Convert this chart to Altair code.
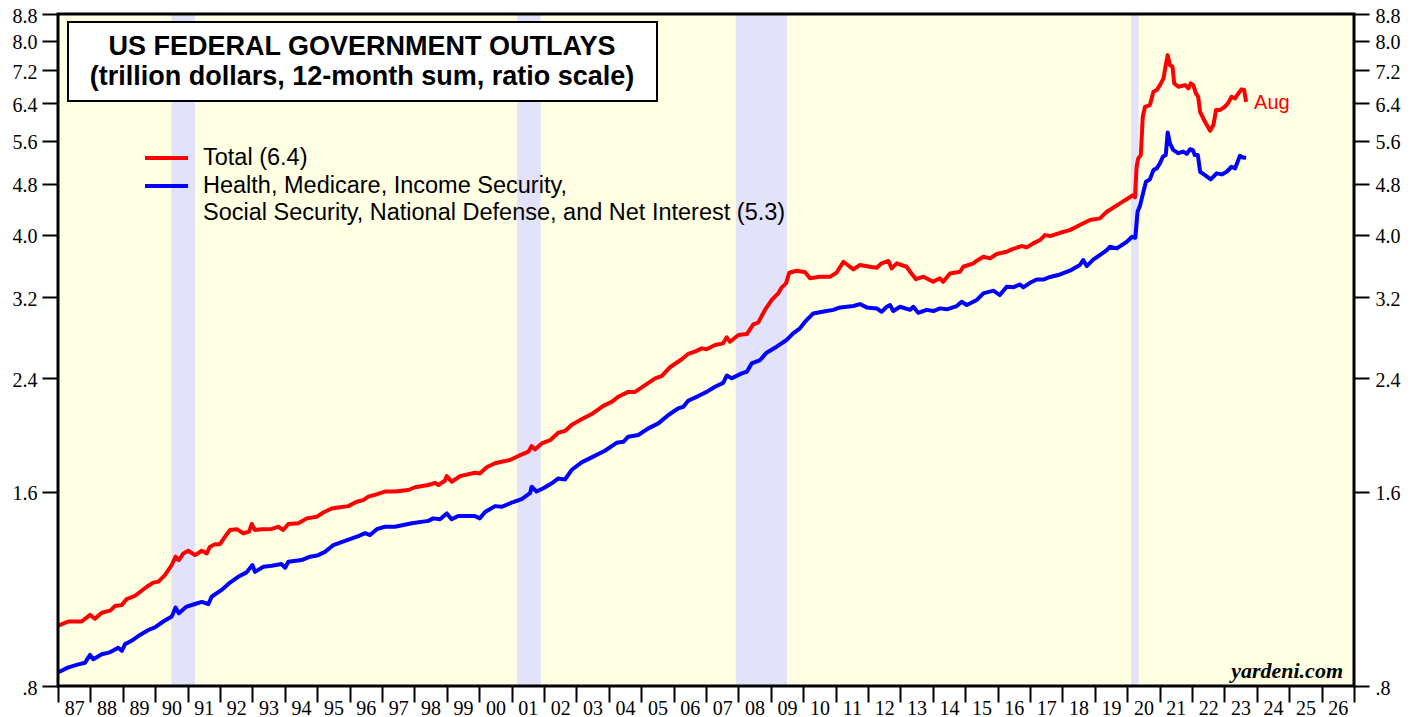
import altair as alt
import pandas as pd

# ---------------- data ----------------
total_year = [1987.01, 1987.32, 1987.73, 1987.99, 1988.14, 1988.35, 1988.61, 1988.76, 1988.97, 1989.12,
              1989.38, 1989.54, 1989.74, 1989.94, 1990.10, 1990.30, 1990.51, 1990.63, 1990.73, 1990.87,
              1991.02, 1991.23, 1991.44, 1991.59, 1991.69, 1991.85, 1992.00, 1992.15, 1992.31, 1992.52,
              1992.72, 1992.90, 1992.98, 1993.08, 1993.29, 1993.60, 1993.80, 1993.95, 1994.11, 1994.42,
              1994.68, 1994.98, 1995.19, 1995.45, 1995.65, 1995.96, 1996.22, 1996.42, 1996.58, 1996.78,
              1997.09, 1997.40, 1997.81, 1998.02, 1998.43, 1998.64, 1998.74, 1998.94, 1999.00, 1999.15,
              1999.41, 1999.87, 2000.02, 2000.23, 2000.49, 2000.69, 2000.95, 2001.21, 2001.52, 2001.62,
              2001.72, 2001.93, 2002.19, 2002.44, 2002.65, 2002.85, 2003.16, 2003.47, 2003.83, 2004.09,
              2004.29, 2004.60, 2004.81, 2005.12, 2005.43, 2005.63, 2005.89, 2006.25, 2006.45, 2006.66,
              2006.87, 2007.02, 2007.28, 2007.53, 2007.64, 2007.74, 2008.00, 2008.26, 2008.46, 2008.61,
              2008.82, 2009.03, 2009.23, 2009.34, 2009.47, 2009.57, 2009.80, 2010.06, 2010.21, 2010.52,
              2010.83, 2011.03, 2011.24, 2011.55, 2011.75, 2012.06, 2012.27, 2012.42, 2012.63, 2012.73,
              2012.89, 2013.19, 2013.30, 2013.48, 2013.71, 2014.01, 2014.22, 2014.32, 2014.53, 2014.84,
              2014.94, 2015.25, 2015.36, 2015.56, 2015.77, 2015.97, 2016.28, 2016.44, 2016.74, 2016.90,
              2017.10, 2017.31, 2017.46, 2017.62, 2017.93, 2018.23, 2018.54, 2018.85, 2019.16, 2019.37,
              2019.78, 2020.03, 2020.19, 2020.24, 2020.29, 2020.34, 2020.42, 2020.48, 2020.55, 2020.70,
              2020.81, 2020.91, 2021.01, 2021.12, 2021.19, 2021.25, 2021.32, 2021.40, 2021.45, 2021.58,
              2021.79, 2021.89, 2021.96, 2022.04, 2022.12, 2022.19, 2022.25, 2022.40, 2022.56, 2022.66,
              2022.74, 2022.86, 2023.01, 2023.12, 2023.22, 2023.33, 2023.43, 2023.53, 2023.61, 2023.67]
total_val = [0.992, 1.007, 1.007, 1.031, 1.017, 1.039, 1.047, 1.064, 1.068, 1.091,
             1.104, 1.120, 1.140, 1.157, 1.161, 1.188, 1.232, 1.269, 1.254, 1.284,
             1.296, 1.276, 1.296, 1.284, 1.315, 1.327, 1.327, 1.362, 1.396, 1.400,
             1.380, 1.388, 1.426, 1.396, 1.400, 1.401, 1.412, 1.396, 1.426, 1.430,
             1.455, 1.463, 1.486, 1.507, 1.513, 1.520, 1.544, 1.553, 1.572, 1.582,
             1.601, 1.601, 1.610, 1.626, 1.639, 1.652, 1.639, 1.664, 1.692, 1.658,
             1.692, 1.712, 1.708, 1.746, 1.771, 1.781, 1.792, 1.818, 1.846, 1.883,
             1.861, 1.901, 1.923, 1.975, 1.988, 2.030, 2.072, 2.111, 2.174, 2.205,
             2.245, 2.285, 2.285, 2.341, 2.398, 2.418, 2.495, 2.567, 2.616, 2.638,
             2.669, 2.660, 2.701, 2.717, 2.776, 2.733, 2.799, 2.809, 2.908, 2.925,
             3.062, 3.172, 3.248, 3.318, 3.365, 3.496, 3.521, 3.501, 3.428, 3.447,
             3.447, 3.496, 3.635, 3.538, 3.593, 3.571, 3.558, 3.615, 3.645, 3.551,
             3.615, 3.571, 3.508, 3.416, 3.447, 3.384, 3.428, 3.384, 3.487, 3.508,
             3.571, 3.615, 3.649, 3.701, 3.680, 3.737, 3.768, 3.800, 3.845, 3.827,
             3.882, 3.928, 3.998, 3.984, 4.031, 4.070, 4.144, 4.219, 4.244, 4.345,
             4.477, 4.559, 4.612, 4.575, 5.102, 5.256, 5.319, 6.098, 6.319, 6.358,
             6.668, 6.709, 6.828, 6.994, 7.333, 7.599, 7.333, 7.289, 6.869, 6.788,
             6.828, 6.749, 6.869, 6.828, 6.628, 6.550, 6.208, 5.990, 5.801, 5.920,
             6.245, 6.245, 6.319, 6.410, 6.550, 6.511, 6.628, 6.725, 6.709, 6.433]

core_year = [1987.01, 1987.32, 1987.63, 1987.83, 1987.99, 1988.09, 1988.35, 1988.60, 1988.86, 1988.97,
             1989.07, 1989.27, 1989.53, 1989.79, 1989.99, 1990.25, 1990.51, 1990.63, 1990.73, 1990.97,
             1991.23, 1991.44, 1991.64, 1991.74, 1992.05, 1992.31, 1992.56, 1992.82, 1993.00, 1993.08,
             1993.34, 1993.60, 1993.90, 1994.01, 1994.11, 1994.52, 1994.78, 1995.03, 1995.24, 1995.50,
             1995.86, 1996.27, 1996.48, 1996.63, 1996.84, 1997.09, 1997.40, 1997.92, 1998.43, 1998.58,
             1998.79, 1999.00, 1999.15, 1999.35, 1999.87, 2000.02, 2000.18, 2000.49, 2000.69, 2001.00,
             2001.31, 2001.57, 2001.62, 2001.77, 2001.98, 2002.24, 2002.44, 2002.65, 2002.85, 2003.16,
             2003.47, 2003.88, 2004.24, 2004.45, 2004.60, 2004.91, 2005.22, 2005.53, 2005.84, 2006.14,
             2006.30, 2006.45, 2006.76, 2007.02, 2007.28, 2007.53, 2007.64, 2007.79, 2008.10, 2008.26,
             2008.41, 2008.67, 2008.87, 2009.18, 2009.49, 2009.69, 2009.90, 2010.06, 2010.31, 2010.72,
             2010.93, 2011.14, 2011.55, 2011.75, 2011.96, 2012.27, 2012.42, 2012.58, 2012.68, 2012.78,
             2012.99, 2013.30, 2013.40, 2013.55, 2013.81, 2014.02, 2014.22, 2014.43, 2014.74, 2014.89,
             2015.05, 2015.36, 2015.56, 2015.87, 2016.07, 2016.28, 2016.48, 2016.69, 2016.79, 2017.00,
             2017.21, 2017.41, 2017.62, 2017.93, 2018.23, 2018.54, 2018.64, 2018.75, 2018.96, 2019.16,
             2019.37, 2019.47, 2019.68, 2019.99, 2020.15, 2020.25, 2020.32, 2020.40, 2020.50, 2020.58,
             2020.70, 2020.81, 2020.91, 2021.01, 2021.10, 2021.19, 2021.25, 2021.32, 2021.42, 2021.58,
             2021.73, 2021.84, 2021.94, 2022.02, 2022.09, 2022.18, 2022.25, 2022.40, 2022.58, 2022.76,
             2022.92, 2023.07, 2023.22, 2023.33, 2023.48, 2023.57, 2023.67]
core_val = [0.840, 0.855, 0.864, 0.869, 0.894, 0.880, 0.896, 0.902, 0.917, 0.907,
            0.929, 0.940, 0.960, 0.977, 0.986, 1.007, 1.025, 1.058, 1.037, 1.062,
            1.072, 1.080, 1.071, 1.100, 1.127, 1.157, 1.181, 1.200, 1.232, 1.202,
            1.224, 1.229, 1.236, 1.220, 1.246, 1.254, 1.269, 1.276, 1.291, 1.323,
            1.343, 1.366, 1.380, 1.371, 1.400, 1.412, 1.412, 1.430, 1.442, 1.455,
            1.450, 1.481, 1.450, 1.467, 1.467, 1.455, 1.489, 1.520, 1.516, 1.539,
            1.559, 1.592, 1.629, 1.601, 1.620, 1.649, 1.678, 1.672, 1.729, 1.777,
            1.809, 1.852, 1.905, 1.912, 1.947, 1.959, 2.006, 2.042, 2.104, 2.155,
            2.167, 2.214, 2.251, 2.285, 2.327, 2.360, 2.422, 2.398, 2.441, 2.455,
            2.529, 2.560, 2.628, 2.685, 2.750, 2.816, 2.867, 2.936, 3.023, 3.049,
            3.062, 3.089, 3.104, 3.126, 3.089, 3.078, 3.041, 3.096, 3.115, 3.049,
            3.096, 3.062, 3.096, 3.030, 3.062, 3.049, 3.078, 3.068, 3.104, 3.152,
            3.115, 3.172, 3.248, 3.279, 3.228, 3.325, 3.318, 3.353, 3.318, 3.372,
            3.412, 3.412, 3.443, 3.474, 3.521, 3.593, 3.658, 3.580, 3.667, 3.724,
            3.790, 3.835, 3.813, 3.904, 3.974, 3.960, 4.345, 4.449, 4.667, 4.836,
            4.877, 5.043, 5.073, 5.165, 5.287, 5.319, 5.768, 5.546, 5.418, 5.355,
            5.386, 5.341, 5.431, 5.418, 5.319, 5.319, 5.012, 4.953, 4.877, 4.983,
            4.965, 5.012, 5.102, 5.073, 5.306, 5.275, 5.268]

recession_start = [1990.50, 2001.17, 2007.92, 2020.12]
recession_end = [1991.23, 2001.90, 2009.50, 2020.35]

series_names = ["Total", "Core"]
series_colors = ["#FF0000", "#0000FF"]
legend_lines = ["Total (6.4)",
                "Health, Medicare, Income Security,",
                "Social Security, National Defense, and Net Interest (5.3)"]
title_lines = ["US FEDERAL GOVERNMENT OUTLAYS",
               "(trillion dollars, 12-month sum, ratio scale)"]
last_label = "Aug"
source_text = "yardeni.com"

year_ticks = [1987, 1988, 1989, 1990, 1991, 1992, 1993, 1994, 1995, 1996, 1997, 1998, 1999, 2000,
              2001, 2002, 2003, 2004, 2005, 2006, 2007, 2008, 2009, 2010, 2011, 2012, 2013, 2014,
              2015, 2016, 2017, 2018, 2019, 2020, 2021, 2022, 2023, 2024, 2025, 2026, 2027]
year_labels = ["87", "88", "89", "90", "91", "92", "93", "94", "95", "96", "97", "98", "99", "00",
               "01", "02", "03", "04", "05", "06", "07", "08", "09", "10", "11", "12", "13", "14",
               "15", "16", "17", "18", "19", "20", "21", "22", "23", "24", "25", "26", ""]
y_ticks = [0.8, 1.6, 2.4, 3.2, 4.0, 4.8, 5.6, 6.4, 7.2, 8.0, 8.8]
y_labels = [".8", "1.6", "2.4", "3.2", "4.0", "4.8", "5.6", "6.4", "7.2", "8.0", "8.8"]

# ---------------- tables ----------------
rows = [{"year": y, "value": v, "series": series_names[0]} for y, v in zip(total_year, total_val)]
rows += [{"year": y, "value": v, "series": series_names[1]} for y, v in zip(core_year, core_val)]
lines_df = pd.DataFrame(rows)
rec_df = pd.DataFrame({"start": recession_start, "end": recession_end})
last_df = pd.DataFrame({"year": [total_year[-1]], "value": [total_val[-1]], "label": [last_label]})
one = alt.Data(values=[{"k": 0}])

W, H = 1296, 672
SERIF = "Liberation Serif"
SANS = "Liberation Sans"
AX_FS = 20
TITLE_FS = 27
LEG_FS = 23.5

x_expr = " : ".join(f"floor(datum.value + 0.01) == {y} ? '{l}'" for y, l in zip(year_ticks, year_labels)) + " : ''"
y_expr = " : ".join(f"abs(datum.value - {v}) < 0.001 ? '{l}'" for v, l in zip(y_ticks, y_labels)) + " : ''"

x_scale = alt.Scale(domain=[1987, 2027], nice=False, zero=False)
y_scale = alt.Scale(type="log", domain=[0.8, 8.8], nice=False)

x_axis = alt.Axis(values=year_ticks, labelExpr=x_expr, orient="bottom", tickSize=16, tickWidth=2,
                  tickColor="black", domain=False, grid=False, labelOffset=16.2, labelPadding=-4,
                  labelFont=SERIF, labelFontSize=AX_FS, labelColor="black", labelOverlap=False,
                  labelFlush=False, labelBound=False, labelAlign="center", labelBaseline="top", title=None)
y_left = alt.Axis(values=y_ticks, labelExpr=y_expr, orient="left", tickSize=16, tickWidth=2,
                  tickColor="black", domain=False, grid=False, labelPadding=5, labelOffset=2,
                  labelFont=SERIF, labelFontSize=AX_FS, labelColor="black", labelOverlap=False,
                  labelFlush=False, labelBound=False, title=None)
y_right = alt.Axis(values=y_ticks, labelExpr=y_expr, orient="right", tickSize=15, tickWidth=2,
                   tickColor="black", domain=False, grid=False, labelPadding=6, labelOffset=2,
                   labelFont=SERIF, labelFontSize=AX_FS, labelColor="black", labelOverlap=False,
                   labelFlush=False, labelBound=False, title=None)

rec = alt.Chart(rec_df).mark_rect(color="#E2E2FA").encode(
    x=alt.X("start:Q", scale=x_scale, axis=x_axis), x2="end:Q",
    y=alt.value(0), y2=alt.value(H))

lines = alt.Chart(lines_df).mark_line(strokeWidth=4, strokeJoin="round").encode(
    x=alt.X("year:Q", scale=x_scale, axis=x_axis),
    y=alt.Y("value:Q", scale=y_scale, axis=y_left),
    color=alt.Color("series:N", scale=alt.Scale(domain=series_names, range=series_colors), legend=None))

last = alt.Chart(last_df).mark_text(color="#FF0000", font=SANS, fontSize=20, align="left",
                                    baseline="middle", dx=8, dy=1).encode(
    x=alt.X("year:Q", scale=x_scale, axis=x_axis),
    y=alt.Y("value:Q", scale=y_scale, axis=y_right),
    text="label:N")

title_box = alt.Chart(one).mark_rect(fill="white", stroke="black", strokeWidth=2).encode(
    x=alt.value(10), x2=alt.value(599), y=alt.value(8), y2=alt.value(87))
title1 = alt.Chart(one).mark_text(font=SANS, fontSize=TITLE_FS, fontWeight="bold", color="black",
                                  align="center", baseline="middle").encode(
    x=alt.value(304), y=alt.value(33), text=alt.value(title_lines[0]))
title2 = alt.Chart(one).mark_text(font=SANS, fontSize=TITLE_FS, fontWeight="bold", color="black",
                                  align="center", baseline="middle").encode(
    x=alt.value(304), y=alt.value(63), text=alt.value(title_lines[1]))

leg_red = alt.Chart(one).mark_rule(color=series_colors[0], strokeWidth=4).encode(
    x=alt.value(87), x2=alt.value(130), y=alt.value(144))
leg_blue = alt.Chart(one).mark_rule(color=series_colors[1], strokeWidth=4).encode(
    x=alt.value(87), x2=alt.value(130), y=alt.value(172))
leg_t1 = alt.Chart(one).mark_text(font=SANS, fontSize=LEG_FS, color="black", align="left", baseline="middle").encode(
    x=alt.value(145), y=alt.value(144), text=alt.value(legend_lines[0]))
leg_t2 = alt.Chart(one).mark_text(font=SANS, fontSize=LEG_FS, color="black", align="left", baseline="middle").encode(
    x=alt.value(145), y=alt.value(172), text=alt.value(legend_lines[1]))
leg_t3 = alt.Chart(one).mark_text(font=SANS, fontSize=LEG_FS, color="black", align="left", baseline="middle").encode(
    x=alt.value(145), y=alt.value(199), text=alt.value(legend_lines[2]))

source = alt.Chart(one).mark_text(font=SERIF, fontSize=22, fontWeight="bold", fontStyle="italic",
                                  color="black", align="right", baseline="alphabetic").encode(
    x=alt.value(1285), y=alt.value(664), text=alt.value(source_text))

frame = alt.Chart(one).mark_rect(fillOpacity=0, stroke="black", strokeWidth=3).encode(
    x=alt.value(0), x2=alt.value(W), y=alt.value(0), y2=alt.value(H))

chart = alt.layer(
    rec, lines, last, title_box, title1, title2, leg_red, leg_blue, leg_t1, leg_t2, leg_t3, source, frame
).resolve_axis(y="independent").properties(
    width=W, height=H,
    autosize=alt.AutoSizeParams(type="none"),
    padding={"left": 50, "top": 6, "right": 57, "bottom": 40},
    background="white",
).configure_view(fill="#FFFFE4", stroke=None)

chart.save("out.html", embed_options={"renderer": "svg", "actions": False})
